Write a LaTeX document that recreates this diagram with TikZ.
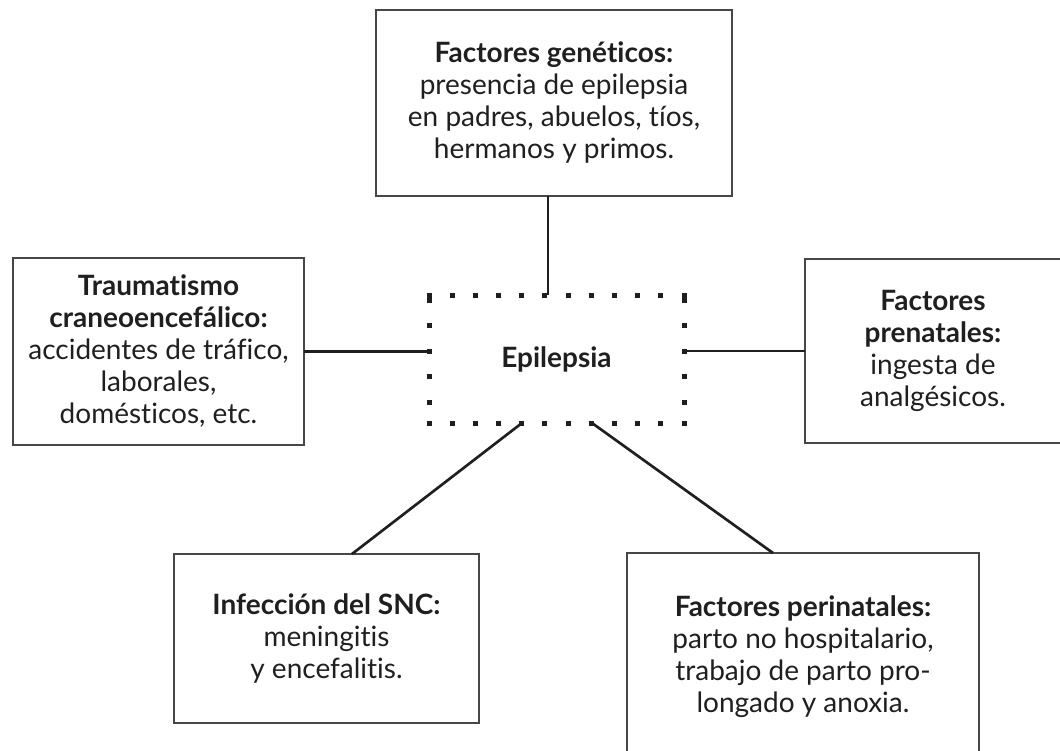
\documentclass[tikz,border=0pt]{standalone}
\usepackage{fontspec}
\setmainfont{Lato}[Ligatures=NoCommon]

\begin{document}
\begin{tikzpicture}[x=0.75pt,y=0.75pt,yscale=-1,xscale=1,
  factor/.style={draw=black!72,line width=1.5pt,text=black!88,align=center,inner sep=0pt,outer sep=0pt,font=\fontsize{21pt}{24pt}\selectfont},
  centre/.style={inner sep=0pt,outer sep=0pt,minimum width=191.25pt,minimum height=96pt,text=black!88,font=\fontsize{21pt}{24pt}\selectfont},
  dotsh/.style={draw=black!88,line width=3.75pt,dash pattern={on 3.75pt off 13.64pt}},
  dotsv/.style={draw=black!88,line width=3.75pt,dash pattern={on 3.75pt off 15.45pt}},
  link/.style={draw=black!88,line width=2pt}]
\useasboundingbox (0,0) rectangle (1060,750);
\clip (0,0) rectangle (1060,750);

%Shape: Rectangle [genetic factors]
\node [factor,minimum width=267pt,minimum height=139.5pt] (gen) at (554,103) {\textbf{Factores genéticos:}\\presencia de epilepsia\\en padres, abuelos, tíos,\\hermanos y primos.};
%Shape: Rectangle [head trauma]
\node [factor,minimum width=218.25pt,minimum height=140.25pt] (trau) at (158.5,351.5) {\textbf{Traumatismo}\\\textbf{craneoencefálico:}\\accidentes de tráfico,\\laborales,\\domésticos, etc.};
%Shape: Rectangle [prenatal factors]
\node [factor,minimum width=192pt,minimum height=138pt] (pre) at (933,351) {\textbf{Factores}\\\textbf{prenatales:}\\ingesta de\\analgésicos.};
%Shape: Rectangle [CNS infection]
\node [factor,minimum width=228.75pt,minimum height=126.75pt] (snc) at (326.5,638.5) {\textbf{Infección del SNC:}\\meningitis\\y encefalitis.};
%Shape: Rectangle [perinatal factors]
\node [factor,minimum width=264pt,minimum height=155.25pt] (peri) at (803,656.5) {\textbf{Factores perinatales:}\\parto no hospitalario,\\trabajo de parto pro-\\longado y anoxia.};

%Shape: Dotted Rectangle [epilepsy]
\node [centre] (epi) at (556.5,359) {\textbf{Epilepsia}};
\draw [dotsh] ([xshift=-1.875pt]epi.north west) -- ([xshift=1.875pt]epi.north east) ;
\draw [dotsh] ([xshift=-1.875pt]epi.south west) -- ([xshift=1.875pt]epi.south east) ;
\draw [dotsv] ([yshift=1.875pt]epi.north west) -- ([yshift=-1.875pt]epi.south west) ;
\draw [dotsv] ([yshift=1.875pt]epi.north east) -- ([yshift=-1.875pt]epi.south east) ;

%Straight Lines
\draw [link] ([xshift=-4.5pt]gen.south) -- ([xshift=-4.5pt]gen.south |- epi.north) ;
%Straight Lines
\draw [link] (trau.east) -- (trau.east -| epi.west) ;
%Straight Lines
\draw [link] (epi.east |- pre.west) -- (pre.west) ;
%Straight Lines
\draw [link] ([xshift=-25.9pt]epi.south) -- ([xshift=19.1pt]snc.north) ;
%Straight Lines
\draw [link] ([xshift=26.6pt]epi.south) -- ([xshift=-22.5pt]peri.north) ;

\end{tikzpicture}
\end{document}
